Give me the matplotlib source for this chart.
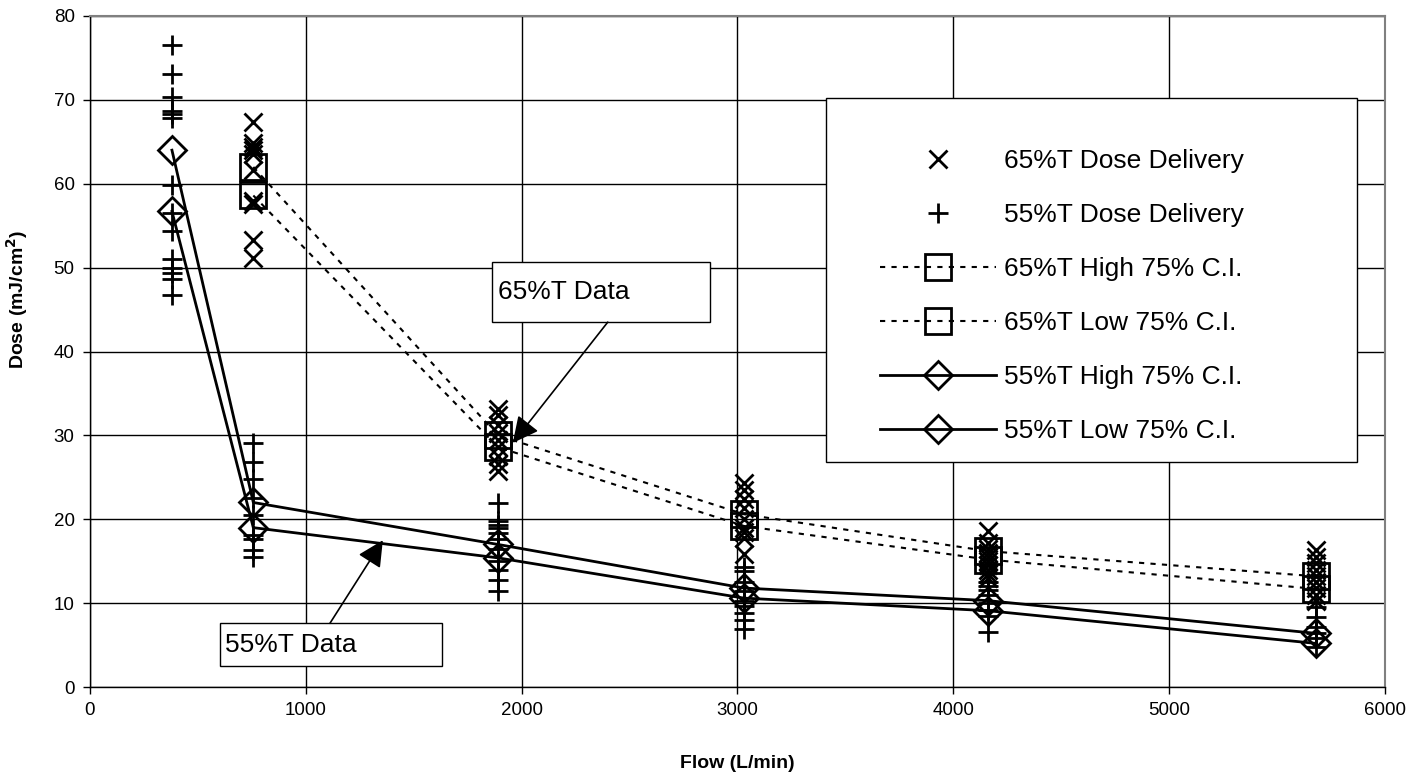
import matplotlib
matplotlib.use("Agg")
import matplotlib.pyplot as plt
from matplotlib.patches import Rectangle

plt.rcParams['font.family'] = ['Liberation Sans', 'DejaVu Sans']

# Measured dose delivery (individual runs) at each flow rate
flow_65 = [757, 1890, 3030, 4160, 5680]
dose_65 = [
    [67.4, 64.8, 64.4, 64.0, 63.6, 61.6, 58.0, 57.6, 53.3, 51.1],
    [33.2, 32.4, 31.2, 30.3, 29.5, 28.6, 27.6, 26.6, 25.7],
    [24.3, 23.5, 22.4, 21.3, 20.0, 19.0, 18.5, 17.8, 15.9],
    [18.6, 17.2, 16.5, 16.0, 15.5, 15.0, 14.5, 14.0, 13.5, 13.0],
    [16.3, 15.5, 14.8, 14.0, 13.2, 12.5, 11.8, 11.0, 10.2],
]

flow_55 = [380, 757, 1890, 3030, 4160, 5680]
dose_55 = [
    [76.5, 73.1, 70.3, 68.7, 68.3, 67.8, 59.8, 56.5, 54.4, 51.0, 49.9, 49.3, 48.7, 46.7],
    [29.1, 26.8, 24.8, 22.5, 20.5, 18.1, 17.7, 16.3, 15.5],
    [21.9, 19.8, 19.3, 18.9, 18.4, 17.7, 16.5, 15.0, 13.9, 12.8, 11.4],
    [14.3, 13.8, 12.5, 11.5, 10.3, 9.6, 8.8, 8.0, 6.9],
    [12.5, 12.0, 11.6, 11.0, 10.0, 9.2, 8.5, 6.6],
    [9.5, 8.3, 7.2, 6.5, 5.8, 4.8],
]

# 75% confidence interval bounds
ci_65_high = [62.0, 30.0, 20.6, 16.2, 13.2]
ci_65_low = [58.6, 28.6, 19.2, 15.2, 11.7]
ci_55_high = [64.0, 22.0, 17.0, 11.8, 10.3, 6.4]
ci_55_low = [56.7, 19.0, 15.4, 10.6, 9.1, 5.2]

x_ticks = [0, 1000, 2000, 3000, 4000, 5000, 6000]
y_ticks = [0, 10, 20, 30, 40, 50, 60, 70, 80]

fig = plt.figure(figsize=(14.14, 7.8), dpi=100)
ax = fig.add_axes([0.0636, 0.1192, 0.9159, 0.8603])

ax.set_xlim(0, 6000)
ax.set_ylim(0, 80)
ax.set_xticks(x_ticks)
ax.set_yticks(y_ticks)
ax.grid(True, color='black', linewidth=1.0)
ax.set_axisbelow(True)
for side in ('top', 'right'):
    ax.spines[side].set_color('#808080')
    ax.spines[side].set_linewidth(1.5)
for side in ('left', 'bottom'):
    ax.spines[side].set_color('black')
    ax.spines[side].set_linewidth(1.0)
ax.tick_params(direction='out', length=5, width=1, labelsize=13.5, pad=6)

# individual doses
xs65, ys65 = [], []
for f, ds in zip(flow_65, dose_65):
    xs65 += [f] * len(ds)
    ys65 += ds
xs55, ys55 = [], []
for f, ds in zip(flow_55, dose_55):
    xs55 += [f] * len(ds)
    ys55 += ds

h1, = ax.plot(xs65, ys65, linestyle='none', marker='x', markersize=13,
              markeredgewidth=2, color='black', label='65%T Dose Delivery')
h2, = ax.plot(xs55, ys55, linestyle='none', marker='+', markersize=15,
              markeredgewidth=2, color='black', label='55%T Dose Delivery')

dash = (0, (2.5, 3))
h3, = ax.plot(flow_65, ci_65_high, color='black', linestyle=dash, linewidth=1.5,
              marker='s', markersize=19, markerfacecolor='none',
              markeredgewidth=2, label='65%T High 75% C.I.')
h4, = ax.plot(flow_65, ci_65_low, color='black', linestyle=dash, linewidth=1.5,
              marker='s', markersize=19, markerfacecolor='none',
              markeredgewidth=2, label='65%T Low 75% C.I.')
h5, = ax.plot(flow_55, ci_55_high, color='black', linestyle='-', linewidth=2,
              marker='D', markersize=14, markerfacecolor='none',
              markeredgewidth=2, label='55%T High 75% C.I.')
h6, = ax.plot(flow_55, ci_55_low, color='black', linestyle='-', linewidth=2,
              marker='D', markersize=14, markerfacecolor='none',
              markeredgewidth=2, label='55%T Low 75% C.I.')

ax.set_xlabel('Flow (L/min)', fontsize=14, fontweight='bold', labelpad=26)
ax.set_ylabel('Dose (mJ/cm$\\mathbf{^2}$)', fontsize=14, fontweight='bold')
ax.yaxis.set_label_coords(-0.046, 0.577)

# legend: white framed panel with entries laid over it
ax.add_patch(Rectangle((0.5683, 0.3353), 0.410, 0.5425, transform=ax.transAxes,
                       facecolor='white', edgecolor='black', linewidth=1.0,
                       zorder=5))
leg = ax.legend(handles=[h1, h2, h3, h4, h5, h6], loc='upper left',
                bbox_to_anchor=(0.610, 0.802), fontsize=19, numpoints=1,
                frameon=False, handlelength=4.4, handletextpad=0.3,
                labelspacing=1.14, borderpad=0, borderaxespad=0)
leg.set_zorder(6)

# callout boxes
ax.add_patch(Rectangle((1862, 43.5), 1010, 7.2, facecolor='white',
                       edgecolor='black', linewidth=1.0, zorder=4))
ax.text(1890, 47.1, '65%T Data', fontsize=19, va='center', ha='left', zorder=5)
ax.annotate('', xy=(1959, 29.1), xytext=(2399, 43.5),
            arrowprops=dict(arrowstyle='-|>', color='black', lw=1.2,
                            mutation_scale=40, shrinkA=0, shrinkB=0), zorder=4)

ax.add_patch(Rectangle((602, 2.5), 1028, 5.1, facecolor='white',
                       edgecolor='black', linewidth=1.0, zorder=4))
ax.text(625, 5.0, '55%T Data', fontsize=19, va='center', ha='left', zorder=5)
ax.annotate('', xy=(1357, 17.5), xytext=(1112, 7.6),
            arrowprops=dict(arrowstyle='-|>', color='black', lw=1.2,
                            mutation_scale=40, shrinkA=0, shrinkB=0), zorder=4)

fig.savefig('out.png', dpi=100)
